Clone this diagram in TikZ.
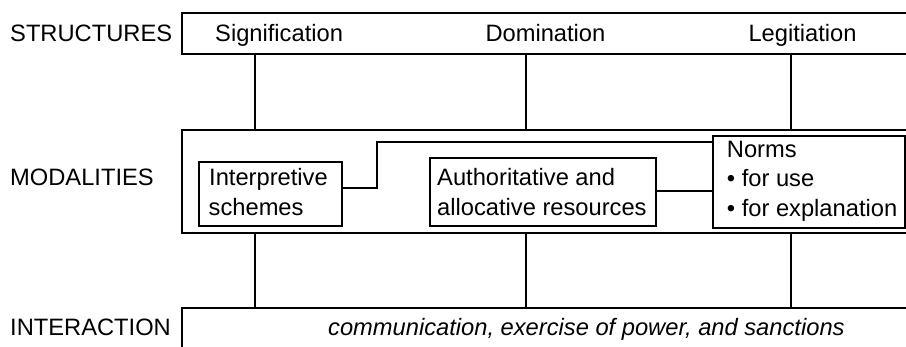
\documentclass[tikz,border=0pt]{standalone}
\usepackage{fontspec}
\setmainfont{Liberation Sans}
\begin{document}
\begin{tikzpicture}[x=1pt,y=-1pt,
  box/.style={draw,line width=2pt,anchor=north west,inner sep=0pt},
  lbl/.style={anchor=base west,inner sep=0pt,font=\fontsize{23.7}{29}\selectfont},
  ln/.style={line width=2pt}]
\clip (0,0) rectangle (906,347);
\fill[white] (0,0) rectangle (906,347);
% big bands
\node[box,minimum width=740pt,minimum height=40.5pt] (struct) at (180.7,12.5) {};
\node[box,minimum width=740pt,minimum height=103pt] (modal) at (180.7,128.7) {};
\node[box,minimum width=740pt,minimum height=60pt] (inter) at (180.7,306.7) {};
% inner boxes
\node[box,minimum width=143pt,minimum height=64pt] (interp) at (198,161) {};
\node[box,minimum width=226pt,minimum height=68pt] (auth) at (429,157) {};
\node[box,minimum width=192pt,minimum height=92.3pt] (norms) at (712.3,135) {};
% verticals
\foreach \x in {255,525.7,790.7}{
  \draw[ln] (struct.south -| \x,0) -- (modal.north -| \x,0);
  \draw[ln] (modal.south -| \x,0) -- (inter.north -| \x,0);
}
% connectors
\coordinate (bend1) at (376.7,187.7);
\coordinate (bend2) at (376.7,141.7);
\draw[ln] (interp.east |- bend1) -- (bend1) -- (bend2) -- (norms.west |- bend2);
\draw[ln] (auth.east |- 0,191) -- (norms.west |- 0,191);
% labels
\node[lbl] (tS) at (10,41.7) {STRUCTURES};
\node[lbl] (tSig) at (215,41.7) {Signification};
\node[lbl] (tDom) at (485.3,41.7) {Domination};
\node[lbl] (tLeg) at (748.3,41.7) {Legitiation};
\node[lbl] (tM) at (10,185.7) {MODALITIES};
\node[lbl] (tI1) at (209,185.7) {Interpretive};
\node[lbl] (tI2) at (208.5,215.7) {schemes};
\node[lbl] (tA1) at (437,185.7) {Authoritative and};
\node[lbl] (tA2) at (437,215.7) {allocative resources};
\node[lbl] (tN1) at (726.7,157.3) {Norms};
\node[lbl] (tN2) at (726.7,186.7) {• for use};
\node[lbl] (tN3) at (726.7,216.3) {• for explanation};
\node[lbl] (tX) at (10,335.7) {INTERACTION};
\node[lbl,font=\fontsize{23.7}{29}\selectfont\itshape] (tC) at (328,335.7) {communication, exercise of power, and sanctions};
\end{tikzpicture}
\end{document}
